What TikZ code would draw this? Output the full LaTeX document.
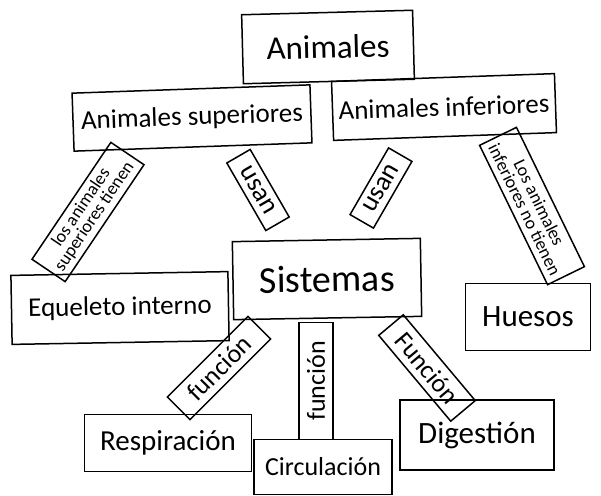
\documentclass[tikz,border=0pt]{standalone}
\usepackage{fontspec}
\setmainfont{Carlito}
\begin{document}
\begin{tikzpicture}[x=1pt, y=-1pt,
    box/.style={draw, line width=1.5pt, inner sep=0pt, align=center},
    link/.style={draw, line width=1.5pt, inner sep=0pt, align=center}]
  \useasboundingbox (0,0) rectangle (601,495);
  % conceptos
  \node [box, minimum width=171, minimum height=69, rotate=1.5, font=\fontsize{33}{36}\selectfont] (animales) at (328,47) {Animales};
  \node [box, minimum width=238, minimum height=58, rotate=2, font=\fontsize{27}{30}\selectfont] (sup) at (192,118) {Animales superiores};
  \node [box, minimum width=223, minimum height=59, rotate=2, font=\fontsize{27}{30}\selectfont] (inf) at (444,107) {Animales inferiores};
  \node [box, minimum width=188, minimum height=78, rotate=1, font=\fontsize{38}{42}\selectfont] (sistemas) at (327,279) {Sistemas};
  \node [box, minimum width=217, minimum height=69, rotate=1, font=\fontsize{27}{30}\selectfont] (esqueleto) at (120,308) {Equeleto interno};
  \node [box, minimum width=125, minimum height=67, font=\fontsize{31}{34}\selectfont] (huesos) at (528,317) {Huesos};
  \node [box, minimum width=167, minimum height=57, font=\fontsize{29}{32}\selectfont] (resp) at (168,443) {Respiración};
  \node [box, minimum width=138, minimum height=55, font=\fontsize{26}{29}\selectfont] (circ) at (323,467) {Circulación};
  \node [box, minimum width=154, minimum height=70, font=\fontsize{31}{34}\selectfont] (dig) at (477,435) {Digestión};
  % enlaces
  \node [link, minimum width=141, minimum height=40, rotate=56, font=\fontsize{18}{16}\selectfont] (tienen) at (88,212) {los animales\\superiores tienen};
  \node [link, minimum width=78, minimum height=27, rotate=-60, font=\fontsize{27}{28}\selectfont] (usanI) at (258,190) {usan};
  \node [link, minimum width=77, minimum height=27, rotate=60, font=\fontsize{27}{28}\selectfont] (usanD) at (381,188) {usan};
  \node [link, minimum width=155, minimum height=41, rotate=-64, font=\fontsize{18}{16}\selectfont] (notienen) at (532,206) {Los animales\\inferiores no tienen};
  \node [link, minimum width=114, minimum height=32, rotate=45, font=\fontsize{26}{28}\selectfont] (funcI) at (219,368) {función};
  \node [link, minimum width=117, minimum height=34, rotate=90, font=\fontsize{26}{28}\selectfont] (funcM) at (316,381) {función};
  \node [link, minimum width=112, minimum height=32, rotate=-50, font=\fontsize{26}{28}\selectfont] (funcD) at (427,368) {Función};
\end{tikzpicture}
\end{document}
